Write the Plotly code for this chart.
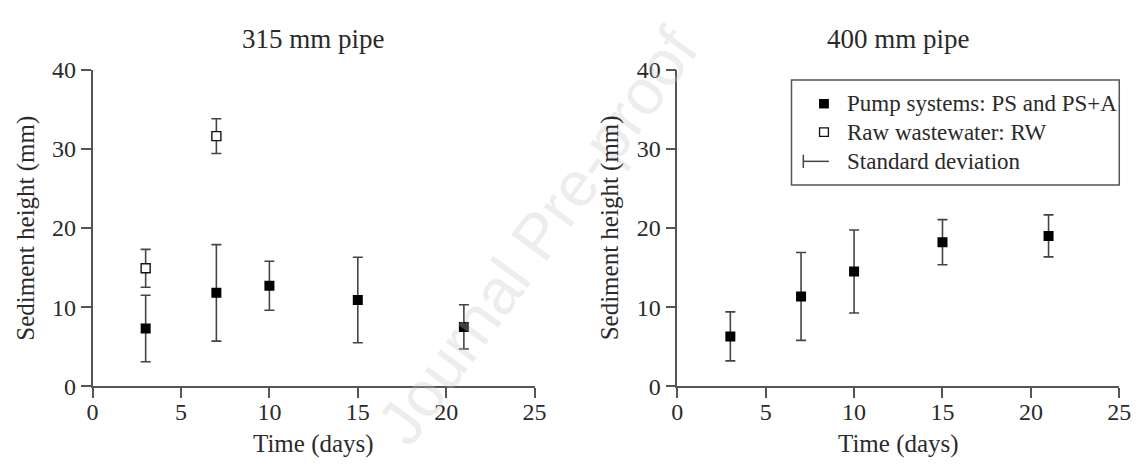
import plotly.graph_objects as go

W, H = 1148, 472

# ---- data ----
days_ps = [3, 7, 10, 15, 21]
ps_315 = [7.3, 11.8, 12.7, 10.9, 7.5]
ps_315_sd = [4.2, 6.1, 3.1, 5.4, 2.8]
days_rw = [3, 7]
rw_315 = [14.9, 31.6]
rw_315_sd = [2.4, 2.2]
ps_400 = [6.3, 11.35, 14.5, 18.2, 19.0]
ps_400_sd = [3.1, 5.55, 5.25, 2.85, 2.65]

panel_titles = ["315 mm pipe", "400 mm pipe"]
x_title = "Time (days)"
y_title = "Sediment height (mm)"
legend_labels = ["Pump systems: PS and PS+A", "Raw wastewater: RW", "Standard deviation"]
x_ticks = [0, 5, 10, 15, 20, 25]
y_ticks = [0, 10, 20, 30, 40]

FONT = "Liberation Serif, Times New Roman, Tinos, serif"
TXT = "#2a2a2a"
AX = "#555555"

def px(x):
    return x / W

def py(y):
    return 1 - y / H

# plot areas in pixels
L1, R1 = 88, 537
L2, R2 = 682, 1131
TOP, BOT = 60, 395

fig = go.Figure()

err_style = dict(type="data", color="#444444", thickness=1.6, width=5, visible=True)
ps_marker = dict(symbol="square", size=10, color="#000000", line=dict(width=0))
rw_marker = dict(symbol="square", size=9, color="#ffffff", line=dict(width=1.4, color="#111111"))

fig.add_trace(go.Scatter(x=days_ps, y=ps_315, mode="markers", marker=ps_marker,
                         error_y=dict(array=ps_315_sd, **err_style), xaxis="x", yaxis="y",
                         showlegend=False))
fig.add_trace(go.Scatter(x=days_rw, y=rw_315, mode="markers", marker=rw_marker,
                         error_y=dict(array=rw_315_sd, **err_style), xaxis="x", yaxis="y",
                         showlegend=False))
fig.add_trace(go.Scatter(x=days_ps, y=ps_400, mode="markers", marker=ps_marker,
                         error_y=dict(array=ps_400_sd, **err_style), xaxis="x2", yaxis="y2",
                         showlegend=False))

axis_common = dict(showline=True, linecolor=AX, linewidth=1.5, ticks="outside", ticklen=10,
                   tickwidth=1.5, tickcolor=AX, showgrid=False, zeroline=False,
                   tickfont=dict(family=FONT, size=24, color=TXT))

fig.update_layout(
    width=W, height=H,
    margin=dict(l=0, r=0, t=0, b=0),
    plot_bgcolor="white", paper_bgcolor="white",
    font=dict(family=FONT, color=TXT),
    xaxis=dict(domain=[px(L1), px(R1)], range=[0, 25], tickvals=x_ticks, anchor="y",
               ticklabelstandoff=-7, **axis_common),
    yaxis=dict(domain=[py(BOT), py(TOP)], range=[0, 40], tickvals=y_ticks, anchor="x", **axis_common),
    xaxis2=dict(domain=[px(L2), px(R2)], range=[0, 25], tickvals=x_ticks, anchor="y2",
                ticklabelstandoff=-7, **axis_common),
    yaxis2=dict(domain=[py(BOT), py(TOP)], range=[0, 40], tickvals=y_ticks, anchor="x2", **axis_common),
)

ann = []
# faint watermark
ann.append(dict(text="Journal Pre-proof", x=px(540), y=py(236), xref="paper", yref="paper",
                showarrow=False, textangle=-54, xanchor="center", yanchor="middle",
                font=dict(family="Liberation Sans, Arial, sans-serif", size=64,
                          color="rgba(200,200,200,0.32)")))
for (l, r), t in zip([(L1, R1), (L2, R2)], panel_titles):
    cx = (l + r) / 2
    ann.append(dict(text=t, x=px(cx), y=py(27), xref="paper", yref="paper", showarrow=False,
                    xanchor="center", yanchor="middle", font=dict(family=FONT, size=27, color=TXT)))
    ann.append(dict(text=x_title, x=px(cx), y=py(456), xref="paper", yref="paper", showarrow=False,
                    xanchor="center", yanchor="middle", font=dict(family=FONT, size=25, color=TXT)))
    ann.append(dict(text=y_title, x=px(l - 68), y=py((TOP + BOT) / 2), xref="paper", yref="paper",
                    showarrow=False, textangle=-90, xanchor="center", yanchor="middle",
                    font=dict(family=FONT, size=25, color=TXT)))

# legend (drawn manually)
rows = [96, 126, 157]
for yy, lab in zip(rows, legend_labels):
    ann.append(dict(text=lab, x=px(852), y=py(yy), xref="paper", yref="paper", showarrow=False,
                    xanchor="left", yanchor="middle", font=dict(family=FONT, size=23, color=TXT)))

shapes = [
    dict(type="rect", xref="paper", yref="paper", x0=px(798), x1=px(1131), y0=py(182), y1=py(71),
         line=dict(color=AX, width=1.5), fillcolor="rgba(255,255,255,0)"),
    dict(type="rect", xref="paper", yref="paper", x0=px(826), x1=px(836), y0=py(101), y1=py(91),
         line=dict(width=0), fillcolor="#000000"),
    dict(type="rect", xref="paper", yref="paper", x0=px(826.5), x1=px(835.5), y0=py(130.5), y1=py(121.5),
         line=dict(width=1.3, color="#111111"), fillcolor="#ffffff"),
    dict(type="line", xref="paper", yref="paper", x0=px(810), x1=px(810), y0=py(150), y1=py(164),
         line=dict(width=1.5, color="#444444")),
    dict(type="line", xref="paper", yref="paper", x0=px(810), x1=px(836), y0=py(157), y1=py(157),
         line=dict(width=1.5, color="#444444")),
]

fig.update_layout(annotations=ann, shapes=shapes)

fig.write_html("out.html")
